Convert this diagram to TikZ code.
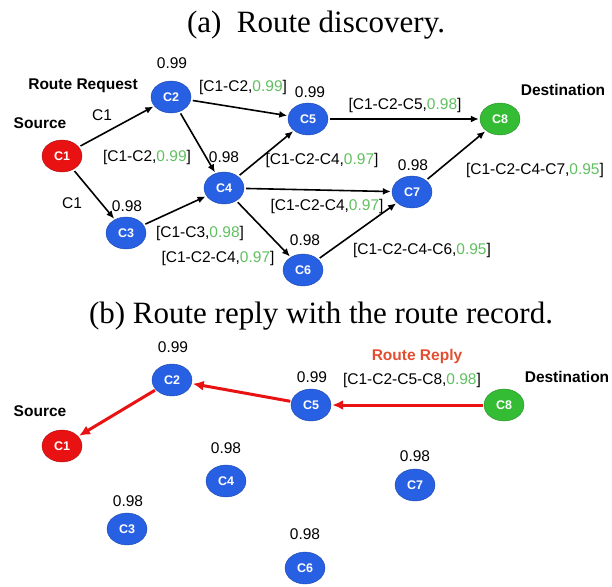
\documentclass[tikz,border=0pt]{standalone}
\usepackage{fontspec}
\setmainfont{Liberation Serif}
\setsansfont{Liberation Sans}
\usetikzlibrary{shapes.geometric,arrows.meta}
\definecolor{cblue}{RGB}{40,96,228}
\definecolor{cred}{RGB}{232,18,18}
\definecolor{cgreen}{RGB}{52,188,52}
\definecolor{gnum}{RGB}{96,192,96}
\definecolor{rreply}{RGB}{226,78,48}
\newcommand{\gn}[1]{\textcolor{gnum}{#1}}
\begin{document}
\begin{tikzpicture}[x=1pt,y=-1pt,every node/.style={font=\sffamily\fontsize{15.5}{17}\selectfont,inner sep=0pt},
 cn/.style={ellipse,draw=#1!75!black,fill=#1,text=white,minimum width=40pt,minimum height=32pt,font=\sffamily\bfseries\fontsize{12.5}{13}\selectfont},
 lbl/.style={font=\sffamily\bfseries\fontsize{15.5}{17}\selectfont},
 captxt/.style={anchor=base,font=\rmfamily\fontsize{31}{34}\selectfont},
 arr/.style={line width=1.6pt,-{Latex[length=8pt,width=7pt]},shorten <=2pt,shorten >=1pt},
 rarr/.style={line width=3pt,cred,-{Latex[length=11pt,width=10pt]},shorten <=1pt,shorten >=1pt}]
\useasboundingbox (0,0) rectangle (612,586);
% (a) route discovery
\node[captxt] (ta) at (316,33) {(a)\ \ Route discovery.};
\node[cn=cred] (a1) at (62,156) {C1}; \node[cn=cblue] (a2) at (171,97) {C2}; \node[cn=cblue] (a3) at (126,233) {C3}; \node[cn=cblue] (a4) at (224,188) {C4};
\node[cn=cblue] (a5) at (308,119) {C5}; \node[cn=cblue] (a6) at (303,270) {C6}; \node[cn=cblue] (a7) at (412,192) {C7}; \node[cn=cgreen] (a8) at (500,119) {C8};
\draw[arr] (a1)--(a2); \draw[arr] (a1)--(a3); \draw[arr] (a2)--(a5); \draw[arr] (a2)--(a4); \draw[arr] (a3)--(a4); \draw[arr] (a4)--(a5);
\draw[arr] (a4)--(a7); \draw[arr] (a4)--(a6); \draw[arr] (a5)--(a8); \draw[arr] (a6)--(a7); \draw[arr] (a7)--(a8);
\node[lbl] (srcA) at (40,123) {Source}; \node[lbl] (rreq) at (83,86) {Route Request}; \node[lbl] (dstA) at (563,90) {Destination};
\node (qa2) at (172,63) {0.99}; \node (qa3) at (127,206) {0.98}; \node (qa4) at (224,157) {0.98}; \node (qa5) at (310,92) {0.99}; \node (qa6) at (305,240) {0.98}; \node (qa7) at (413,165) {0.98};
\node (e12) at (102,115) {C1}; \node (e13) at (72,203) {C1};
\node (e24) at (147,157) {[C1-C2,\gn{0.99}]}; \node (e25) at (243,87) {[C1-C2,\gn{0.99}]}; \node (e34) at (200,233) {[C1-C3,\gn{0.98}]};
\node (e46) at (218,258) {[C1-C2-C4,\gn{0.97}]}; \node (e45) at (322,160) {[C1-C2-C4,\gn{0.97}]}; \node (e47) at (327,206) {[C1-C2-C4,\gn{0.97}]};
\node (e58) at (405,105) {[C1-C2-C5,\gn{0.98}]}; \node (e67) at (422,250) {[C1-C2-C4-C6,\gn{0.95}]}; \node (e78) at (535,170) {[C1-C2-C4-C7,\gn{0.95}]};
% (b) route reply
\node[captxt] (tb) at (321,323) {(b) Route reply with the route record.};
\node[cn=cred] (b1) at (62,446) {C1}; \node[cn=cblue] (b2) at (172,380) {C2}; \node[cn=cblue] (b3) at (127,529) {C3}; \node[cn=cblue] (b4) at (226,481) {C4};
\node[cn=cblue] (b5) at (311,405) {C5}; \node[cn=cblue] (b6) at (305,568) {C6}; \node[cn=cblue] (b7) at (415,485) {C7}; \node[cn=cgreen] (b8) at (504,405) {C8};
\draw[rarr] (b8)--(b5); \draw[rarr] (b5)--(b2); \draw[rarr] (b2)--(b1);
\node[lbl] (srcB) at (40,411) {Source}; \node[lbl] (dstB) at (567,377) {Destination}; \node[lbl,text=rreply] (rrep) at (417,356) {Route Reply};
\node (qb2) at (173,347) {0.99}; \node (qb3) at (128,501) {0.98}; \node (qb4) at (226,448) {0.98}; \node (qb5) at (312,377) {0.99}; \node (qb6) at (305,534) {0.98}; \node (qb7) at (415,456) {0.98};
\node (rec) at (412,380) {[C1-C2-C5-C8,\gn{0.98}]};
\end{tikzpicture}
\end{document}
